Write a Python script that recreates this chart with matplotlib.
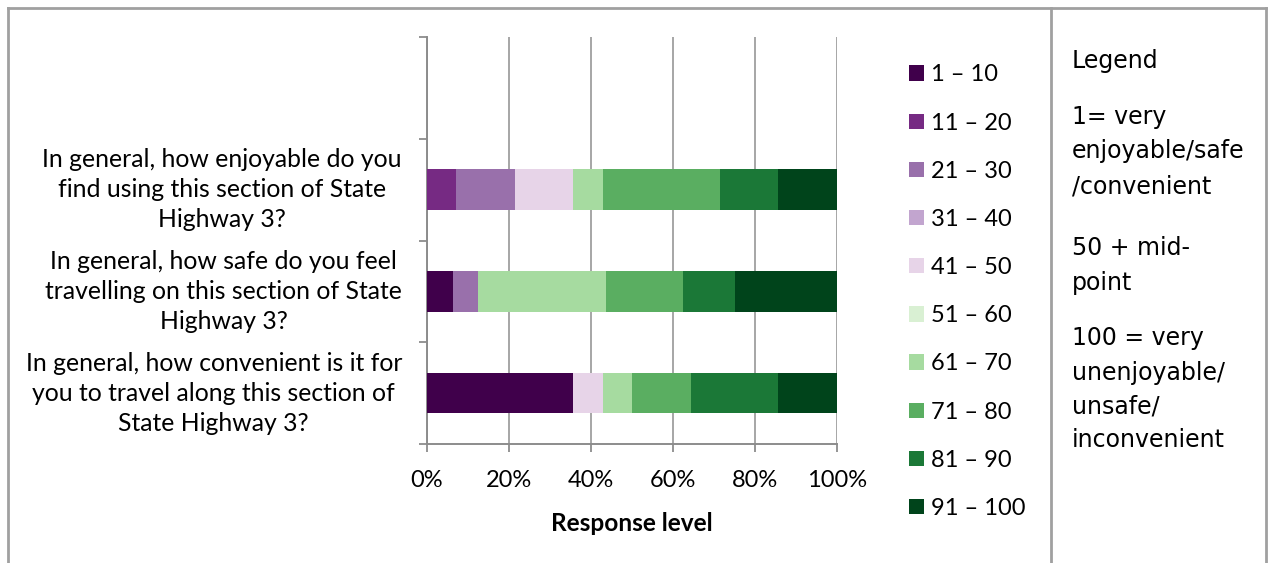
import matplotlib
matplotlib.use("Agg")
import matplotlib.pyplot as plt
from matplotlib.lines import Line2D
from matplotlib.transforms import ScaledTranslation

# Survey questions, bottom to top; the top slot is left empty
questions = [
    "In general, how convenient is it for\nyou to travel along this section of\nState Highway 3?",
    "In general, how safe do you feel\ntravelling on this section of State\nHighway 3?",
    "In general, how enjoyable do you\nfind using this section of State\nHighway 3?",
    "",
]

bins = ["1 – 10", "11 – 20", "21 – 30", "31 – 40", "41 – 50",
        "51 – 60", "61 – 70", "71 – 80", "81 – 90", "91 – 100"]

bin_colors = ["#40004b", "#762a83", "#9970ab", "#c2a5cf", "#e7d4e8",
              "#d9f0d3", "#a6dba0", "#5aae61", "#1b7837", "#00441b"]

# Share of responses (%) in each score band
convenient = [35.71, 0, 0, 0, 7.14, 0, 7.14, 14.29, 21.43, 14.29]
safe = [6.25, 0, 6.25, 0, 0, 0, 31.25, 18.75, 12.50, 25.00]
enjoyable = [0, 7.14, 14.29, 0, 14.29, 0, 7.14, 28.57, 14.29, 14.29]

x_ticks = [0, 20, 40, 60, 80, 100]
x_tick_labels = ["0%", "20%", "40%", "60%", "80%", "100%"]

key_lines = ["Legend", "1= very", "enjoyable/safe", "/convenient",
             "50 + mid-", "point", "100 = very", "unenjoyable/",
             "unsafe/", "inconvenient"]
key_y_px = [61, 117, 151, 186, 248, 283, 338, 373, 407, 440]

W, H = 1268, 563
MAIN_FONT = ["Lato", "DejaVu Sans"]
GRID = "#a6a6a6"
AXIS = "#8c8c8c"

fig = plt.figure(figsize=(W / 100, H / 100), dpi=100)
ax = fig.add_axes([427 / W, 1 - 444 / H, 410 / W, 407 / H])

series = [convenient, safe, enjoyable]
ypos = list(range(len(series)))
left = [0.0] * len(series)
for i, (label, color) in enumerate(zip(bins, bin_colors)):
    vals = [s[i] for s in series]
    ax.barh(ypos, vals, left=left, height=0.4, color=color,
            label=label, linewidth=0, zorder=3)
    left = [l + v for l, v in zip(left, vals)]

ax.set_xlim(0, 100)
ax.set_ylim(-0.5, len(questions) - 0.5)

ax.set_xticks(x_ticks)
ax.set_xticklabels(x_tick_labels, family=MAIN_FONT, fontsize=17)
ax.tick_params(axis="x", direction="out", length=6, width=1.3,
               color=AXIS, pad=13)

ax.set_yticks(range(len(questions)))
ax.set_yticklabels(questions, family=MAIN_FONT, fontsize=17.8,
                   multialignment="center", linespacing=1.38)
ax.set_yticks([y - 0.5 for y in range(len(questions) + 1)], minor=True)
ax.tick_params(axis="y", which="major", length=0, pad=18)
ax.tick_params(axis="y", which="minor", direction="out", length=6,
               width=1.3, color=AXIS)
# nudge the question blocks up a little so they sit level with the bars
lift = ScaledTranslation(0, 0.055, fig.dpi_scale_trans)
for lbl in ax.get_yticklabels():
    lbl.set_transform(lbl.get_transform() + lift)

ax.grid(axis="x", color=GRID, linewidth=1.4, zorder=0)
ax.set_axisbelow(True)
for side in ("top", "right"):
    ax.spines[side].set_visible(False)
for side in ("left", "bottom"):
    ax.spines[side].set_color(AXIS)
    ax.spines[side].set_linewidth(1.4)

ax.set_xlabel("Response level", family=MAIN_FONT, fontsize=17.6,
              fontweight="bold", labelpad=15)

handles, labels = ax.get_legend_handles_labels()
fig.legend(handles, labels, loc="upper left",
           bbox_to_anchor=(900 / W, 1 - 55 / H), frameon=False,
           prop={"family": MAIN_FONT, "size": 17},
           handlelength=0.62, handleheight=0.62, handletextpad=0.3,
           labelspacing=1.15, borderaxespad=0)

# Table-like frame around the chart and the key
frame_kw = dict(color="#a0a0a0", linewidth=2, transform=fig.transFigure)
def px(x, y):
    return x / W, 1 - y / H
for (x0, y0), (x1, y1) in [((8, 8), (1266, 8)), ((8, 8), (8, H)),
                           ((1051, 8), (1051, H)), ((1266, 8), (1266, H))]:
    a, b = px(x0, y0)
    c, d = px(x1, y1)
    fig.add_artist(Line2D([a, c], [b, d], **frame_kw))

for text, y in zip(key_lines, key_y_px):
    fig.text(1072 / W, 1 - y / H, text, family="DejaVu Sans",
             fontsize=17, va="center", ha="left")

fig.savefig("out.png", dpi=100)
